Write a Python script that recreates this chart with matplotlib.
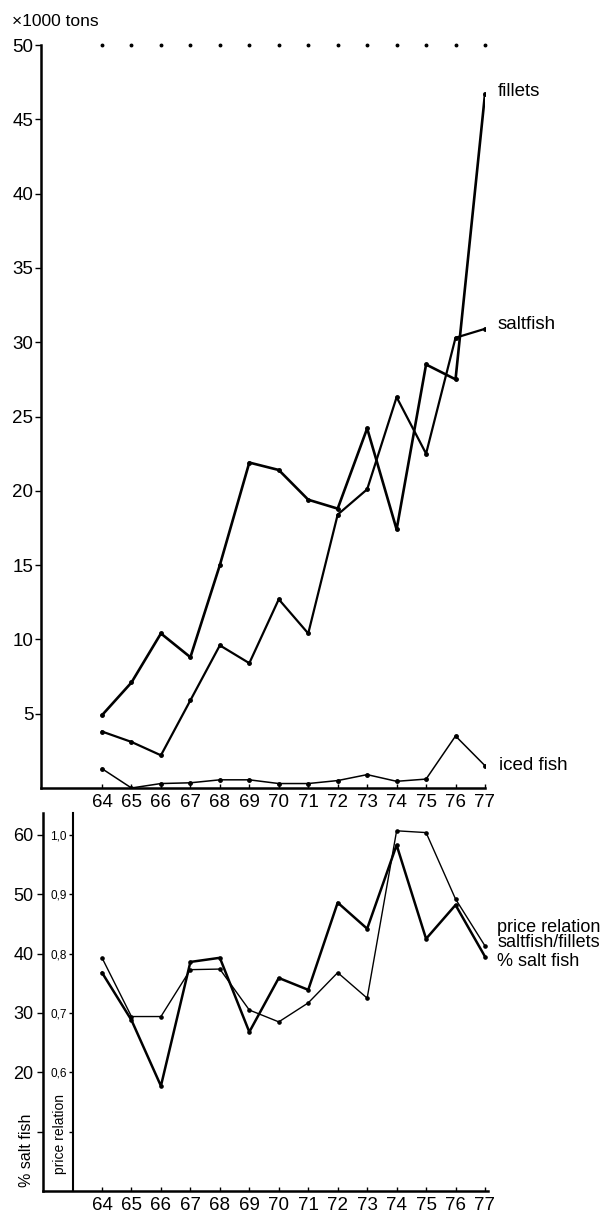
import matplotlib.pyplot as plt

plt.rcParams['font.family'] = ['Liberation Sans', 'DejaVu Sans']

# years 1964-1977
years = list(range(64, 78))

# exports, x1000 tons
fillets = [4.9, 7.1, 10.4, 8.8, 15.0, 21.9, 21.4, 19.4, 18.8, 24.2, 17.4, 28.5, 27.5, 46.7]
saltfish = [3.8, 3.1, 2.2, 5.9, 9.6, 8.4, 12.7, 10.4, 18.4, 20.1, 26.3, 22.5, 30.3, 30.9]
iced_fish = [1.3, 0.0, 0.3, 0.35, 0.55, 0.55, 0.3, 0.3, 0.5, 0.9, 0.45, 0.6, 3.5, 1.5]

# lower panel
pct_salt = [36.8, 28.8, 17.7, 38.6, 39.3, 26.8, 35.9, 33.9, 48.6, 44.2, 58.3, 42.5, 48.2, 39.5]
price_rel = [0.793, 0.694, 0.694, 0.773, 0.774, 0.705, 0.685, 0.717, 0.768, 0.725, 1.007, 1.004, 0.892, 0.813]

top_ticks = [5, 10, 15, 20, 25, 30, 35, 40, 45, 50]
pct_ticks = [10, 20, 30, 40, 50, 60]
pct_labels = ['', '20', '30', '40', '50', '60']
pr_ticks = [0.5, 0.6, 0.7, 0.8, 0.9, 1.0]
pr_labels = ['', '0,6', '0,7', '0,8', '0,9', '1,0']

W, H = 605, 1214
fig = plt.figure(figsize=(W / 100, H / 100), dpi=100)


def box(l, t, r, b):
    return [l / W, 1 - b / H, (r - l) / W, (b - t) / H]


step = 29.46  # pixels per year

# ---- upper panel ----
ax = fig.add_axes(box(41, 45, 485, 788))
ax.set_xlim(64 - (102 - 41) / step, 77)
ax.set_ylim(0, 50)
for s in ['top', 'right']:
    ax.spines[s].set_visible(False)
ax.spines['left'].set_linewidth(1.8)
ax.spines['bottom'].set_linewidth(1.8)

ax.plot(years, fillets, color='black', lw=1.9, marker='o', ms=2.5)
ax.plot(years, saltfish, color='black', lw=1.6, marker='o', ms=2.5)
ax.plot(years, iced_fish, color='black', lw=1.1, marker='o', ms=2.5)
ax.plot(years, [50] * len(years), ls='none', marker='o', ms=1.8, color='black', clip_on=False)

ax.set_yticks(top_ticks)
ax.set_xticks(years)
ax.tick_params(axis='y', direction='out', length=4, width=1, labelsize=13.5, pad=1.5)
ax.tick_params(axis='x', direction='in', length=3, width=1, labelsize=13.5, pad=4)

ax.annotate('fillets', (77, fillets[-1]), xytext=(9, 2), textcoords='offset points',
            va='center', ha='left', fontsize=13.5, annotation_clip=False)
ax.annotate('saltfish', (77, saltfish[-1]), xytext=(9, 3), textcoords='offset points',
            va='center', ha='left', fontsize=13.5, annotation_clip=False)
ax.annotate('iced fish', (77, iced_fish[-1]), xytext=(10, 0), textcoords='offset points',
            va='center', ha='left', fontsize=13.5, annotation_clip=False)
fig.text(12 / W, 1 - 22 / H, '×1000 tons', fontsize=12.5, va='center', ha='left')

# ---- lower panel ----
bx = fig.add_axes(box(43, 813, 488, 1191))
bx.set_xlim(64 - (102 - 43) / step, 77 + (488 - 485) / step)
bx.set_ylim(0, 63.7)
for s in ['top', 'right']:
    bx.spines[s].set_visible(False)
bx.spines['left'].set_linewidth(1.8)
bx.spines['bottom'].set_linewidth(1.8)
bx.set_xticks(years)
bx.set_yticks(pct_ticks)
bx.set_yticklabels(pct_labels)
bx.tick_params(axis='y', direction='out', length=4, width=1, labelsize=13, pad=3)
bx.tick_params(axis='x', direction='in', length=3, width=1, labelsize=13.5, pad=4)

px = bx.twinx()
px.set_ylim(0.4, 0.4 + 0.637)
px.spines['right'].set_visible(False)
px.spines['top'].set_visible(False)
px.spines['bottom'].set_visible(False)
px.spines['left'].set_visible(True)
px.spines['left'].set_position(('axes', (73 - 43) / (488 - 43)))
px.spines['left'].set_linewidth(1.5)
px.yaxis.set_ticks_position('left')
px.yaxis.set_label_position('left')
px.set_yticks(pr_ticks)
px.set_yticklabels(pr_labels)
px.tick_params(axis='y', direction='out', length=3, width=1, labelsize=8.5, pad=1.5)

bx.plot(years, pct_salt, color='black', lw=1.8, marker='o', ms=2.3, zorder=3)
px.plot(years, price_rel, color='black', lw=1.0, marker='o', ms=2.3)

px.annotate('price relation\nsaltfish/fillets', (77, price_rel[-1]), xytext=(9, 8),
            textcoords='offset points', va='center', ha='left', fontsize=13,
            linespacing=0.85, annotation_clip=False)
bx.annotate('% salt fish', (77, pct_salt[-1]), xytext=(9, -3.5), textcoords='offset points',
            va='center', ha='left', fontsize=13, annotation_clip=False)

fig.text(27 / W, 1 - 1150 / H, '% salt fish', rotation=90, fontsize=11.5, va='center', ha='center')
fig.text(60 / W, 1 - 1134 / H, 'price relation', rotation=90, fontsize=10, va='center', ha='center')

fig.savefig('out.png', dpi=100)
